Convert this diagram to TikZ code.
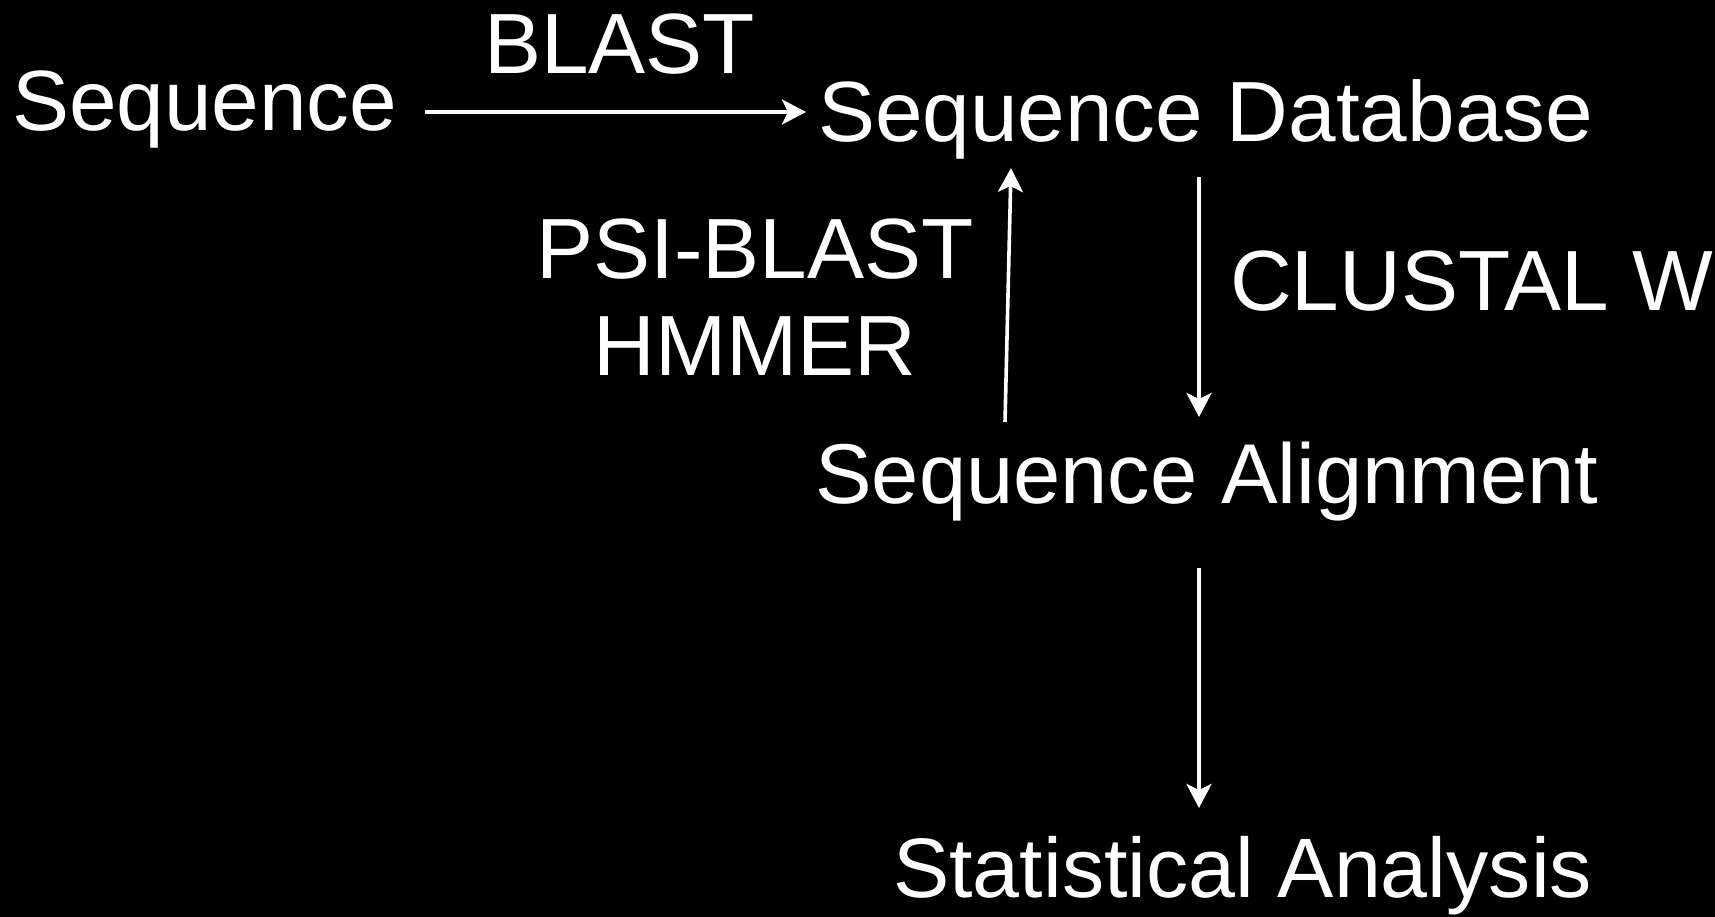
\documentclass[tikz,border=0pt]{standalone}
\usepackage{fontspec}
\setmainfont{Liberation Sans}
\usetikzlibrary{arrows.meta,calc}
\begin{document}
\begin{tikzpicture}[x=1pt,y=-1pt,
  txt/.style={text=white,inner sep=0pt,font=\fontsize{85.5}{100}\selectfont},
  arr/.style={draw=white,line width=3.6pt,-{Stealth[length=24pt,width=25pt,inset=6pt]}}]
  \fill[black] (0,0) rectangle (1715,917);
  \useasboundingbox (0,0) rectangle (1715,917);
  % workflow stages
  \node[txt,anchor=base west] (seq) at (12,131) {Sequence};
  \node[txt,anchor=base west] (seqdb) at (818,142) {Sequence Database};
  \node[txt,anchor=base west,font=\fontsize{84.9}{100}\selectfont] (seqalign) at (815,503) {Sequence Alignment};
  \node[txt,anchor=base west,font=\fontsize{84.4}{100}\selectfont] (stat) at (893,897) {Statistical Analysis};
  % tool labels
  \node[txt,anchor=base west] (blast) at (484,74) {BLAST};
  \node[txt,anchor=base] (psi) at (755,279) {PSI-BLAST};
  \node[txt,anchor=base] (hmmer) at (755,375) {HMMER};
  \node[txt,anchor=base west] (clustal) at (1230,310) {CLUSTAL W};
  % connectors
  \draw[arr] ($(seq.base west)+(413,-19)$) -- ($(seqdb.base west)+(-12,-30)$);
  \draw[arr] ($(seqalign.base west)+(190,-81)$) -- ($(seqdb.base west)+(193,26)$);
  \draw[arr] ($(seqdb.base west)+(381,35)$) -- ($(seqalign.base west)+(384,-86)$);
  \draw[arr] ($(seqalign.base west)+(384,65)$) -- ($(stat.base west)+(306,-89)$);
\end{tikzpicture}
\end{document}
